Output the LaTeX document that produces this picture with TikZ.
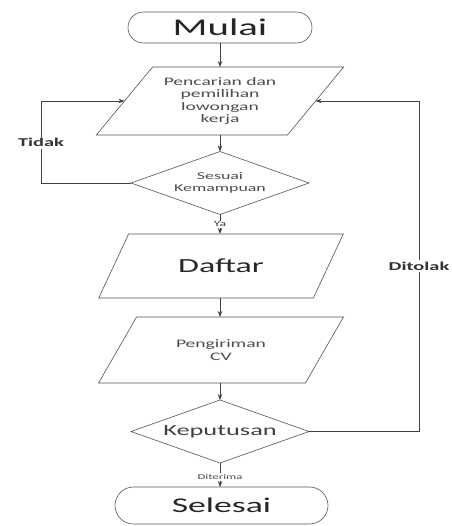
\documentclass[tikz,border=0pt]{standalone}
\usepackage{fontspec}
\setmainfont{Carlito}[FakeStretch=1.7]
\usetikzlibrary{shapes.geometric,shapes.misc,arrows.meta}
\begin{document}
\begin{tikzpicture}[x=1pt,y=-1pt,
  shapeline/.style={draw=gray!65!black, line width=0.6pt},
  term/.style={shapeline, rounded rectangle, inner sep=0pt, outer sep=0pt},
  io/.style={shapeline, trapezium, trapezium left angle=45, trapezium right angle=135,
    trapezium stretches=true, inner sep=0pt, outer sep=0pt, align=center},
  dec/.style={shapeline, diamond, aspect=2.8, inner sep=0pt, outer sep=0pt, align=center},
  conn/.style={draw=black!75, line width=0.8pt, -{Stealth[length=6pt,width=4.5pt]}},
  line/.style={draw=black!70, line width=0.8pt},
  lbl/.style={fill=white, inner sep=1.5pt, font=\fontsize{12}{14}\selectfont\bfseries, text=black!80},
  small/.style={font=\fontsize{11.5}{12.3}\selectfont, text=black!70},
  big/.style={text=black!85}
]
\useasboundingbox[fill=white] (0,0) rectangle (451,526);

\node[term, big, minimum width=184pt, minimum height=31pt, font=\fontsize{24}{28}\selectfont] (start) at (220,27.5) {Mulai};
\node[io, small, minimum width=248pt, minimum height=68pt] (p1) at (220,101) {Pencarian dan\\pemilihan\\lowongan\\kerja};
\node[dec, font=\fontsize{10.5}{12}\selectfont, text=black!70, minimum width=178pt, minimum height=63pt] (d1) at (220,183) {Sesuai\\Kemampuan};
\node[io, big, font=\fontsize{20}{24}\selectfont, minimum width=245pt, minimum height=64pt] (p2) at (221,266) {Daftar};
\node[io, small, minimum width=245pt, minimum height=66pt] (p3) at (221,350) {Pengiriman\\CV};
\node[dec, font=\fontsize{15.5}{18}\selectfont, text=black!75, minimum width=178pt, minimum height=63pt] (d2) at (220,431.5) {Keputusan};
\node[term, big, minimum width=213pt, minimum height=37pt, font=\fontsize{21}{25}\selectfont] (end) at (221.5,505.5) {Selesai};

\draw[conn] (start.south) -- (start.south |- p1.north);
\draw[conn] (p1.south -| d1.north) -- (d1.north);
\draw[conn] (d1.south) -- (d1.south |- p2.north)
  node[pos=0.5, fill=white, inner sep=1pt, font=\fontsize{8}{9}\selectfont, text=black!75] {Ya};
\draw[conn] (p2.south -| d1.north) -- (d1.north |- p3.north);
\draw[conn] (p3.south -| d2.north) -- (d2.north);
\draw[conn] (d2.south) -- (d2.south |- end.north)
  node[pos=0.58, fill=white, inner sep=1pt, font=\fontsize{7.5}{9}\selectfont, text=black!70] {Diterima};

\draw[conn] (d1.west) -- ++(-90,0) |- (p1.west)
  node[lbl, pos=0.245] {Tidak};
\draw[conn] (d2.east) -- ++(110,0) |- (p1.east)
  node[lbl, pos=0.25] {Ditolak};
\end{tikzpicture}
\end{document}
